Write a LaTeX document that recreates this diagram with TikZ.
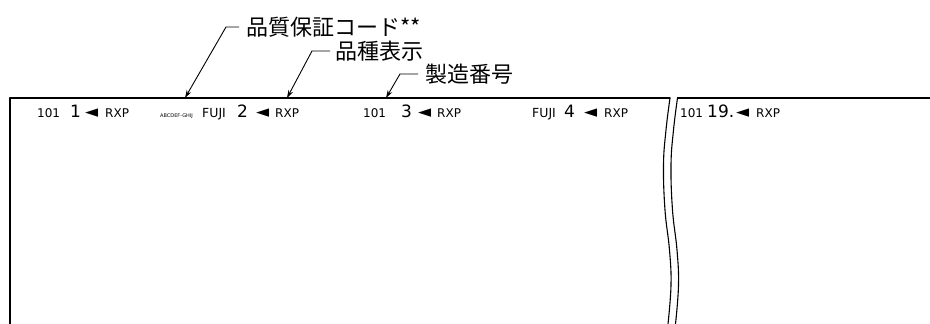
\documentclass[tikz,border=0pt]{standalone}
\usepackage{fontspec}
\setmainfont{DejaVu Sans}
\newfontfamily\jpfont{Noto Sans CJK JP}
\newfontfamily\symfont{DejaVu Sans}
\usetikzlibrary{arrows.meta}
\tikzset{
  frameline/.style={line width=1.1pt, line cap=round, line join=round},
  leader/.style={line width=0.9pt, -{Stealth[length=8pt,width=5pt]}},
  callout/.style={font=\jpfont\fontsize{22}{22}\selectfont, inner sep=0pt, anchor=west},
  small/.style={font=\fontsize{12}{12}\selectfont, inner sep=0pt, anchor=base west},
  big/.style={font=\fontsize{17}{17}\selectfont, inner sep=0pt, anchor=base west},
  tri/.style={font=\symfont\fontsize{17}{17}\selectfont, inner sep=0pt, anchor=base west},
  tiny/.style={font=\fontsize{5}{5}\selectfont, inner sep=0pt, anchor=base west},
  fuji/.style={font=\fontsize{12.5}{12.5}\selectfont, inner sep=0pt, anchor=base west},
}
\begin{document}
\begin{tikzpicture}[x=1pt,y=-1pt]
\useasboundingbox (0,0) rectangle (930,324);
% frame
\coordinate (fl) at (10,324);
\coordinate (ftl) at (10,98);
\coordinate (ftr) at (670,98);
\coordinate (fr1) at (677.5,98);
\coordinate (fr2) at (930,98);
\draw[frameline] (fl) -- (ftl) -- (ftr);
\draw[frameline] (fr1) -- (fr2);
% break lines
\draw[frameline] plot[smooth, tension=0.7] coordinates {(670,98) (666,130) (663.5,165) (665,210) (669.5,250) (671,285) (668,324)};
\draw[frameline] plot[smooth, tension=0.7] coordinates {(677.5,98) (673.5,130) (671,165) (672.5,210) (677,250) (678.5,285) (675.5,324)};
% callouts
\node[callout] (c1) at (246,27) {品質保証コード**};
\node[callout] (c2) at (335,51) {品種表示};
\node[callout] (c3) at (425,74) {製造番号};
\coordinate (t1) at (185,98);
\coordinate (t2) at (287,98);
\coordinate (t3) at (386,98);
\draw[leader] ([xshift=-7pt]c1.west) -- ++(-13,0) -- (t1);
\draw[leader] ([xshift=-5pt]c2.west) -- ++(-18,0) -- (t2);
\draw[leader] ([xshift=-7pt]c3.west) -- ++(-18,0) -- (t3);
% group 1
\node[small] (a1) at (37,117) {101};
\node[big] (a2) at (70,117) {1};
\node[tri] (a3) at (85,117) {◄};
\node[small] (a4) at (105,117) {RXP};
% group 2
\node[tiny] (b1) at (160,117) {ABCDEF-GHIJ};
\node[fuji] (b2) at (202,117) {FUJI};
\node[big] (b3) at (237,117) {2};
\node[tri] (b4) at (256,117) {◄};
\node[small] (b5) at (275,117) {RXP};
% group 3
\node[small] (d1) at (363,117) {101};
\node[big] (d2) at (401,117) {3};
\node[tri] (d3) at (418,117) {◄};
\node[small] (d4) at (437,117) {RXP};
% group 4
\node[fuji] (e1) at (532,117) {FUJI};
\node[big] (e2) at (564,117) {4};
\node[tri] (e3) at (584,117) {◄};
\node[small] (e4) at (604,117) {RXP};
% group 5
\node[small] (g1) at (680,117) {101};
\node[big] (g2) at (707,117) {19.};
\node[tri] (g3) at (736,117) {◄};
\node[small] (g4) at (756,117) {RXP};
\end{tikzpicture}
\end{document}
